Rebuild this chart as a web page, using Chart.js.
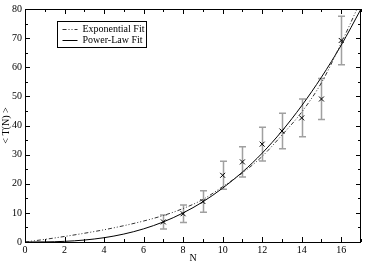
<!DOCTYPE html>
<html>
<head>
<meta charset="utf-8">
<script src="https://cdn.jsdelivr.net/npm/chart.js@4/dist/chart.umd.min.js"></script>
<style>
  body { margin: 0; background: #fff; }
  canvas { display: block; }
</style>
</head>
<body>
<canvas id="fitChart" width="366" height="263"></canvas>
<script>
// Data
const nValues = [7, 8, 9, 10, 11, 12, 13, 14, 15, 16];
const meanT = [6.9, 9.7, 13.9, 22.9, 27.5, 33.6, 38.1, 42.6, 49.1, 69.2];
const errT = [2.4, 3.0, 3.7, 4.8, 5.2, 5.8, 6.1, 6.5, 7.0, 8.3];

const curveN = [0, 1, 2, 3, 4, 5, 6, 7, 8, 9, 10, 11, 12, 13, 14, 15, 16, 17];
const expFit = [0, 0.9, 1.9, 3.0, 4.2, 5.6, 7.2, 9.1, 11.5, 14.6, 19.0, 23.7, 29.4, 36.7, 44.6, 54.7, 68.3, 83];
const powerFit = [0, 0.03, 0.22, 0.67, 1.47, 2.73, 4.51, 6.9, 9.98, 13.8, 18.5, 24.0, 30.5, 38.1, 46.8, 56.6, 67.6, 80.0];

const xTicks = [0, 2, 4, 6, 8, 10, 12, 14, 16];
const yTicks = [0, 10, 20, 30, 40, 50, 60, 70, 80];
const legendLabels = ['Exponential Fit', 'Power-Law Fit'];

const serif = "'Liberation Serif', 'DejaVu Serif', serif";
Chart.defaults.font.family = serif;
Chart.defaults.font.size = 10;
Chart.defaults.color = '#000';

function toPoints(xs, ys) {
    return xs.map((x, i) => ({ x: x, y: ys[i] }));
}

// Error bars (under the marks)
const errorBars = {
    id: 'errorBars',
    beforeDatasetsDraw(chart) {
        const { ctx, scales: { x, y } } = chart;
        ctx.save();
        ctx.strokeStyle = '#a0a0a0';
        ctx.lineWidth = 1.5;
        nValues.forEach((n, i) => {
            const px = Math.round(x.getPixelForValue(n)) + 0.5;
            const top = y.getPixelForValue(meanT[i] + errT[i]);
            const bot = y.getPixelForValue(meanT[i] - errT[i]);
            ctx.beginPath();
            ctx.moveTo(px, top); ctx.lineTo(px, bot);
            ctx.moveTo(px - 3.5, top); ctx.lineTo(px + 3.5, top);
            ctx.moveTo(px - 3.5, bot); ctx.lineTo(px + 3.5, bot);
            ctx.stroke();
        });
        ctx.restore();
    }
};

// Frame with inward ticks on all sides, plus boxed legend
const frameAndLegend = {
    id: 'frameAndLegend',
    afterDraw(chart) {
        const { ctx, chartArea: a, scales: { x, y } } = chart;
        ctx.save();
        ctx.strokeStyle = '#000';
        ctx.lineWidth = 1;
        ctx.strokeRect(a.left + 0.5, a.top + 0.5, a.right - a.left - 1, a.bottom - a.top);

        ctx.beginPath();
        for (let v = 0; v <= 17; v++) {
            const len = v % 2 === 0 ? 5 : 3;
            const px = Math.round(x.getPixelForValue(v)) + 0.5;
            ctx.moveTo(px, a.bottom); ctx.lineTo(px, a.bottom - len);
            ctx.moveTo(px, a.top); ctx.lineTo(px, a.top + len);
        }
        for (let v = 0; v <= 80; v += 5) {
            const len = v % 10 === 0 ? 5 : 3;
            const py = Math.round(y.getPixelForValue(v)) + 0.5;
            ctx.moveTo(a.left, py); ctx.lineTo(a.left + len, py);
            ctx.moveTo(a.right, py); ctx.lineTo(a.right - len, py);
        }
        ctx.stroke();

        // legend
        const bx = 57.5, by = 21.5, bw = 89, bh = 26;
        ctx.strokeRect(bx, by, bw, bh);
        ctx.font = '10px ' + serif;
        ctx.fillStyle = '#000';
        ctx.textBaseline = 'middle';
        const rows = [by + 8, by + 19];
        ctx.beginPath();
        ctx.setLineDash([4, 2, 1, 2, 1, 2]);
        ctx.strokeStyle = '#333';
        ctx.moveTo(bx + 5, rows[0]); ctx.lineTo(bx + 20, rows[0]);
        ctx.stroke();
        ctx.setLineDash([]);
        ctx.strokeStyle = '#000';
        ctx.beginPath();
        ctx.moveTo(bx + 5, rows[1]); ctx.lineTo(bx + 20, rows[1]);
        ctx.stroke();
        legendLabels.forEach((t, i) => ctx.fillText(t, bx + 25, rows[i]));
        ctx.restore();
    }
};

new Chart(document.getElementById('fitChart'), {
    type: 'scatter',
    data: {
        datasets: [
            {
                label: legendLabels[0],
                data: toPoints(curveN, expFit),
                showLine: true,
                borderColor: '#333',
                borderWidth: 1,
                borderDash: [4, 2, 1, 2, 1, 2],
                pointRadius: 0,
                cubicInterpolationMode: 'monotone'
            },
            {
                label: legendLabels[1],
                data: toPoints(curveN, powerFit),
                showLine: true,
                borderColor: '#000',
                borderWidth: 1,
                pointRadius: 0,
                cubicInterpolationMode: 'monotone'
            },
            {
                label: 'data',
                data: toPoints(nValues, meanT),
                pointStyle: 'crossRot',
                pointRadius: 3.5,
                borderColor: '#000',
                borderWidth: 1
            }
        ]
    },
    options: {
        responsive: false,
        animation: false,
        devicePixelRatio: 1,
        layout: { padding: { top: 5, right: 1, left: 0, bottom: 0 } },
        plugins: {
            legend: { display: false },
            tooltip: { enabled: false }
        },
        scales: {
            x: {
                type: 'linear',
                min: 0,
                max: 17,
                afterBuildTicks: s => { s.ticks = xTicks.map(v => ({ value: v })); },
                afterFit: s => { s.height = 21; },
                grid: { display: false, drawTicks: false },
                border: { display: false },
                ticks: { padding: 2, maxRotation: 0 },
                title: { display: true, text: 'N', padding: { top: 0, bottom: -1 }, font: { size: 10 } }
            },
            y: {
                type: 'linear',
                min: 0,
                max: 80,
                afterBuildTicks: s => { s.ticks = yTicks.map(v => ({ value: v })); },
                afterFit: s => { s.width = 25; },
                grid: { display: false, drawTicks: false },
                border: { display: false },
                ticks: { padding: 3 },
                title: { display: true, text: '< T(N) >', padding: 0, font: { size: 10 } }
            }
        }
    },
    plugins: [errorBars, frameAndLegend]
});
</script>
</body>
</html>
